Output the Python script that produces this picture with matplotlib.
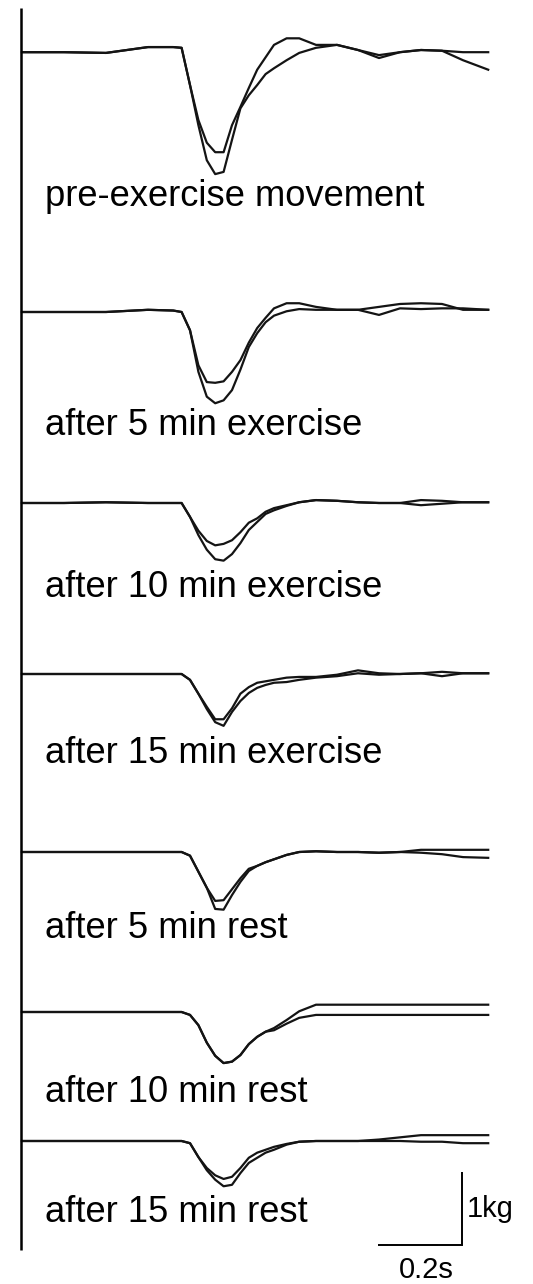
import matplotlib
matplotlib.use('Agg')
import matplotlib.pyplot as plt

plt.rcParams['font.family'] = ['Liberation Sans', 'DejaVu Sans']

# ---------------- data (time in s, force in kg relative to each baseline) ----------------
time_s = [0.00, 0.10, 0.20, 0.30, 0.36, 0.38, 0.40, 0.42, 0.44, 0.46, 0.48, 0.50, 0.52, 0.54,
          0.56, 0.58, 0.60, 0.63, 0.66, 0.70, 0.75, 0.80, 0.85, 0.90, 0.95, 1.00, 1.05, 1.11]

labels = ["pre-exercise movement", "after 5 min exercise", "after 10 min exercise",
          "after 15 min exercise", "after 5 min rest", "after 10 min rest", "after 15 min rest"]

pre_a = [-0.03, -0.03, -0.04, 0.04, 0.04, 0.03, -0.48, -0.96, -1.27, -1.40, -1.40, -1.03, -0.78, -0.52,
         -0.27, -0.10, 0.07, 0.16, 0.16, 0.07, 0.07, 0.00, -0.07, -0.03, 0.00, -0.01, -0.03, -0.03]
pre_b = [-0.03, -0.03, -0.04, 0.04, 0.04, 0.03, -0.48, -1.03, -1.51, -1.70, -1.67, -1.23, -0.80, -0.62,
         -0.48, -0.33, -0.25, -0.14, -0.04, 0.03, 0.07, 0.00, -0.11, -0.03, 0.00, -0.01, -0.14, -0.27]

ex5_a = [0, 0, 0, 0.03, 0.02, 0, -0.25, -0.73, -0.96, -0.97, -0.95, -0.82, -0.66, -0.42,
         -0.22, -0.08, 0.05, 0.12, 0.12, 0.07, 0.03, 0.03, 0.07, 0.11, 0.12, 0.11, 0.03, 0.03]
ex5_b = [0, 0, 0, 0.03, 0.02, 0, -0.25, -0.82, -1.16, -1.25, -1.21, -1.07, -0.79, -0.48,
         -0.29, -0.14, -0.05, 0.01, 0.04, 0.03, 0.03, 0.03, -0.04, 0.05, 0.04, 0.05, 0.05, 0.03]

ex10_a = [0, 0, 0.01, 0, 0, 0, -0.19, -0.38, -0.52, -0.58, -0.56, -0.51, -0.40, -0.27,
          -0.21, -0.12, -0.07, -0.03, 0.01, 0.04, 0.03, 0.01, 0, 0, 0.04, 0.03, 0.01, 0.01]
ex10_b = [0, 0, 0.01, 0, 0, 0, -0.19, -0.44, -0.64, -0.77, -0.79, -0.70, -0.55, -0.37,
          -0.26, -0.15, -0.10, -0.04, 0.01, 0.04, 0.03, 0.01, 0, 0, -0.03, -0.01, 0.01, 0.01]

ex15_a = [0, 0, 0, 0, 0, 0, -0.08, -0.27, -0.45, -0.62, -0.62, -0.47, -0.27, -0.18,
          -0.12, -0.10, -0.08, -0.05, -0.04, -0.04, -0.01, 0.05, 0.01, 0, 0.01, 0.03, 0.01, 0.01]
ex15_b = [0, 0, 0, 0, 0, 0, -0.08, -0.27, -0.48, -0.66, -0.71, -0.52, -0.37, -0.26,
          -0.19, -0.15, -0.12, -0.11, -0.08, -0.05, -0.03, 0.01, -0.01, 0, 0.01, -0.03, 0.01, 0.01]

rest5_a = [0, 0, 0, 0, 0, 0, -0.05, -0.27, -0.49, -0.67, -0.66, -0.51, -0.36, -0.23,
           -0.19, -0.14, -0.10, -0.04, 0, 0.01, 0, 0, -0.01, 0, 0.03, 0.03, 0.03, 0.03]
rest5_b = [0, 0, 0, 0, 0, 0, -0.05, -0.27, -0.49, -0.78, -0.79, -0.59, -0.41, -0.26,
           -0.19, -0.14, -0.10, -0.04, 0, 0.01, 0, 0, -0.01, 0, -0.01, -0.03, -0.07, -0.08]

rest10_a = [0, 0, 0, 0, 0, 0, -0.04, -0.18, -0.42, -0.60, -0.70, -0.68, -0.59, -0.44,
            -0.34, -0.27, -0.22, -0.11, 0.01, 0.10, 0.10, 0.10, 0.10, 0.10, 0.10, 0.10, 0.10, 0.10]
rest10_b = [0, 0, 0, 0, 0, 0, -0.04, -0.18, -0.42, -0.60, -0.70, -0.68, -0.59, -0.44,
            -0.34, -0.27, -0.25, -0.16, -0.08, -0.04, -0.04, -0.04, -0.04, -0.04, -0.04, -0.04, -0.04, -0.04]

rest15_a = [0, 0, 0, 0, 0, 0, -0.03, -0.22, -0.37, -0.47, -0.52, -0.49, -0.37, -0.23,
            -0.16, -0.12, -0.08, -0.04, -0.01, 0, 0, 0, 0.02, 0.05, 0.08, 0.08, 0.08, 0.08]
rest15_b = [0, 0, 0, 0, 0, 0, -0.03, -0.22, -0.40, -0.53, -0.62, -0.60, -0.44, -0.30,
            -0.23, -0.16, -0.12, -0.05, -0.01, 0, 0, 0, 0, 0, -0.01, -0.01, -0.03, -0.03]

traces = [(pre_a, pre_b), (ex5_a, ex5_b), (ex10_a, ex10_b), (ex15_a, ex15_b),
          (rest5_a, rest5_b), (rest10_a, rest10_b), (rest15_a, rest15_b)]

scale_time = 0.2   # s
scale_force = 1.0  # kg

# ---------------- layout ----------------
W, H, DPI = 533, 1284, 100
PX_PER_S = 420.0
PX_PER_KG = 73.0
X0 = 22.0

baseline_y = [-50, -312, -503, -674, -852, -1012, -1141]
label_y = [-206, -435, -597, -763, -938, -1102, -1222]
baseline_y = [v / PX_PER_KG for v in baseline_y]
label_y = [v / PX_PER_KG for v in label_y]

fig = plt.figure(figsize=(W / DPI, H / DPI), dpi=DPI)
ax = fig.add_axes([0, 0, 1, 1])
ax.set_xlim(-X0 / PX_PER_S, (W - X0) / PX_PER_S)
ax.set_ylim(-H / PX_PER_KG, 0)
ax.axis('off')

trace_color = '#141414'
for (a, b), base in zip(traces, baseline_y):
    ax.plot(time_s, [base + v for v in a], color=trace_color, lw=1.6, solid_joinstyle='round')
    ax.plot(time_s, [base + v for v in b], color=trace_color, lw=1.6, solid_joinstyle='round')

label_x = (45 - X0) / PX_PER_S
for lab, ly in zip(labels, label_y):
    ax.text(label_x, ly, lab, fontsize=26.2, va='baseline', ha='left', color='black')

# vertical axis line on the left
axis_x = (21 - X0) / PX_PER_S
ax.plot([axis_x, axis_x], [-8 / PX_PER_KG, -1250 / PX_PER_KG], color='black', lw=1.8,
        solid_capstyle='butt')

# scale bar
bar_xr = (462 - X0) / PX_PER_S
bar_yb = -1245 / PX_PER_KG
ax.plot([bar_xr - scale_time, bar_xr, bar_xr], [bar_yb, bar_yb, bar_yb + scale_force],
        color='black', lw=1.4, solid_capstyle='butt', solid_joinstyle='miter')
ax.text(bar_xr + 5 / PX_PER_S, -1217 / PX_PER_KG, f"{scale_force:g}kg", fontsize=21,
        ha='left', va='baseline')
ax.text(bar_xr - scale_time / 2 + 6 / PX_PER_S, -1278 / PX_PER_KG, f"{scale_time:g}s",
        fontsize=21, ha='center', va='baseline')

fig.savefig('out.png', dpi=DPI, facecolor='white')
